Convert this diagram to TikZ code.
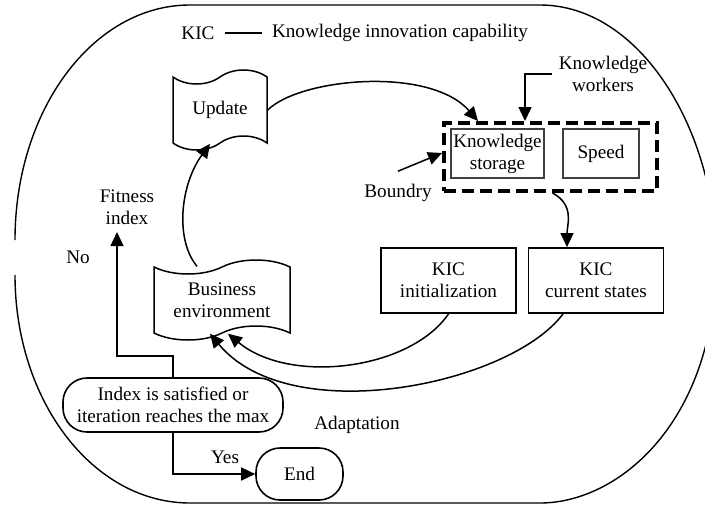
\documentclass[tikz,border=0pt]{standalone}
\usepackage{fontspec}
\setmainfont{Liberation Serif}
\usepackage{tikz}
\usetikzlibrary{arrows.meta, calc, positioning, shapes.symbols}

\begin{document}
\begin{tikzpicture}[x=0.5pt, y=-0.5pt,
				every node/.style={font=\fontsize{9.6}{11}\selectfont, align=center},
				kicbox/.style={draw, line width=0.9pt, inner sep=1pt,
					minimum width=67.5pt, minimum height=32.5pt},
				innerbox/.style={draw=black!75, line width=0.8pt, inner sep=1pt,
					minimum height=24.5pt},
				wavebox/.style={draw, tape, line width=0.75pt, tape bend height=7pt,
					inner sep=1pt},
				termbox/.style={draw, rounded corners=12pt, line width=0.8pt,
					inner sep=1pt},
				arr/.style={-{Triangle[length=7pt, width=6.5pt]}, line width=0.75pt}
				]
				\useasboundingbox (0,0) rectangle (705,508);
				\begin{scope}
					\clip (0,0) rectangle (705,508);
					% outer environment boundary, open at the left
					\draw[line width=0.7pt] (15,240) .. controls (15,110) and (93,5) .. (190,5)
					-- (540,5) .. controls (640,5) and (716,130) .. (716,260)
					.. controls (716,420) and (620,503) .. (540,503) -- (190,503)
					.. controls (93,503) and (15,401) .. (15,275);
				\end{scope}
				% legend
				\node[inner sep=5pt] (kic) at (198,33) {KIC};
				\node[inner sep=5pt] (kicdef) at (400,33) {Knowledge innovation capability};
				\draw[line width=0.75pt] (kic) -- (kicdef);
				% KIC elements
				\node[innerbox, minimum width=45.5pt] (storage) at (497.5,153.5) {Knowledge\\storage};
				\node[innerbox, minimum width=38pt] (speed) at (601,153.5) {Speed};
				\node[draw, dash pattern=on 6pt off 3pt, line width=2pt,
				minimum width=106.5pt, minimum height=34pt] (boundary) at (550.5,157) {};
				\node (workers) at (603,74) {Knowledge\\workers};
				\node (boundry) at (398,193) {Boundry};
				\node[kicbox] (kicinit) at (448.5,280.5) {KIC\\initialization};
				\node[kicbox] (kiccur) at (596,280.5) {KIC\\current states};
				% environment
				\node[wavebox, minimum width=47pt, minimum height=40pt] (update) at (220,110) {Update};
				\node[wavebox, minimum width=68pt, minimum height=40pt] (bizenv) at (222,300)
				{Business\\environment};
				\node[termbox, minimum width=110pt, minimum height=27pt] (decision) at (173,405)
				{Index is satisfied or\\iteration reaches the max};
				\node[termbox, minimum width=43.5pt, minimum height=26pt] (endbox) at (299.5,474) {End};
				\node (fitness) at (127,207.5) {Fitness\\index};
				\node (no) at (78,257) {No};
				\node (yes) at (225,457) {Yes};
				\node (adapt) at (357,425) {Adaptation};
				% connectors
				\draw[arr] (workers.west) -| ([xshift=41.5pt]boundary.north west);
				\draw[arr] ([yshift=3pt]boundry.north) -- ([yshift=2pt]boundary.west);
				\draw[arr] (update.east) .. controls (300,78) and (430,66)
				.. ([xshift=18pt]boundary.north west);
				\draw[arr] ([xshift=1pt]boundary.south) .. controls (575,205) and (567,225)
				.. ([xshift=-14.5pt]kiccur.north);
				\draw[arr] ([xshift=-12.5pt]bizenv.north) .. controls (175,240) and (180,185)
				.. ([xshift=-5pt]update.south);
				\draw[arr] (kicinit.south) .. controls (410,370) and (290,385)
				.. ([xshift=3pt]bizenv.south);
				\draw[arr] ([xshift=-16.5pt]kiccur.south) .. controls (510,385) and (290,430)
				.. ([xshift=-6pt]bizenv.south);
				\draw[arr] (decision.north) -- ++(0,-21) -| ([xshift=-5pt]fitness.south);
				\draw[arr] (decision.south) |- (endbox.west);
			\end{tikzpicture}
\end{document}
